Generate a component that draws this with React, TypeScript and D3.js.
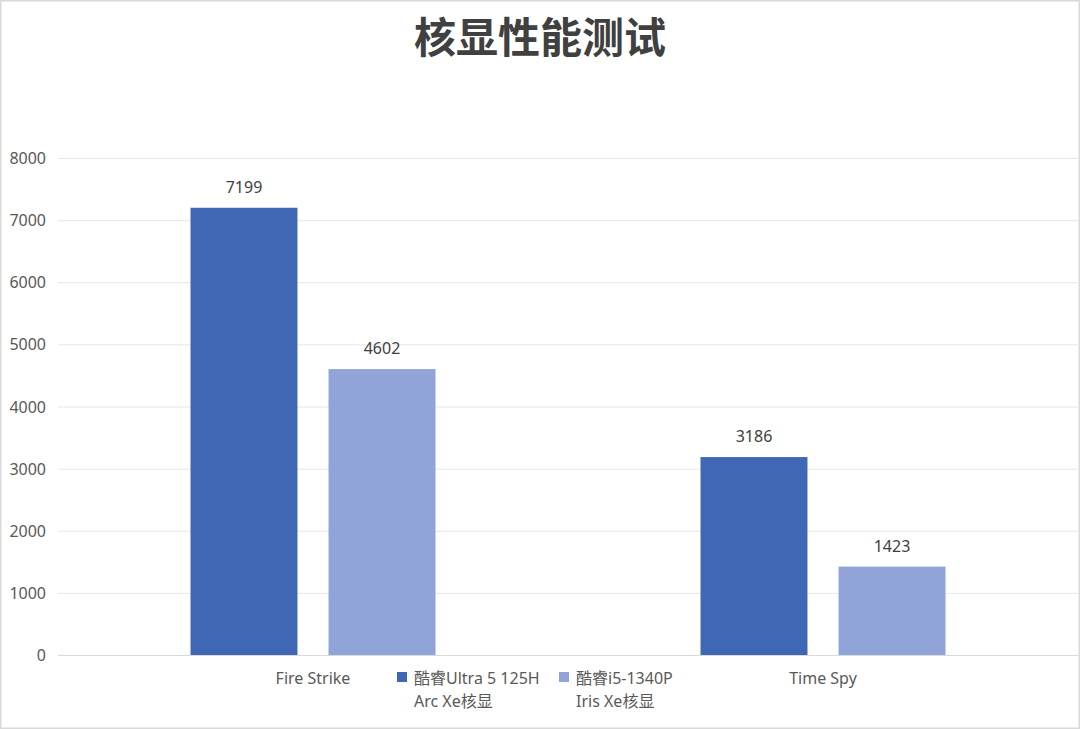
import React, { useEffect, useRef } from 'react';
import * as d3 from 'd3';

const categories = ['Fire Strike', 'Time Spy'];
const seriesNames = ['酷睿Ultra 5 125H\nArc Xe核显', '酷睿i5-1340P\nIris Xe核显'];
const ultraValues = [7199, 3186];
const irisValues = [4602, 1423];
const yTicks = [0, 1000, 2000, 3000, 4000, 5000, 6000, 7000, 8000];
const colors = ['#4067B5', '#91A4D9'];

const FONT = '"Noto Sans", "Noto Sans CJK SC", sans-serif';
const TITLE_FONT = '"Noto Sans CJK SC", sans-serif';

const App: React.FC = () => {
  const ref = useRef<SVGSVGElement | null>(null);

  useEffect(() => {
    const width = 1080;
    const height = 729;
    const left = 58;
    const right = 1078;
    const top = 158;
    const bottom = 655;

    const svg = d3.select(ref.current)
      .attr('width', width)
      .attr('height', height)
      .style('display', 'block')
      .style('position', 'absolute')
      .style('left', '0px')
      .style('top', '0px')
      .style('background', '#ffffff');

    svg.selectAll('*').remove();

    svg.append('rect')
      .attr('x', 0.75).attr('y', 0.75)
      .attr('width', width - 1.5).attr('height', height - 1.5)
      .attr('fill', 'none')
      .attr('stroke', '#d9d9d9')
      .attr('stroke-width', 1.5);

    svg.append('text')
      .attr('x', width / 2)
      .attr('y', 53)
      .attr('text-anchor', 'middle')
      .attr('fill', '#404040')
      .style('font-family', TITLE_FONT)
      .style('font-size', '42px')
      .style('font-weight', 'bold')
      .text('核显性能测试');

    const y = d3.scaleLinear().domain([0, 8000]).range([bottom, top]);
    const x0 = d3.scaleBand<string>().domain(categories).range([left, right]);
    const x1 = d3.scaleBand<number>().domain([0, 1]).range([0, 245]).paddingInner(0.225);

    svg.append('g')
      .selectAll('line')
      .data(yTicks)
      .join('line')
        .attr('x1', left).attr('x2', right)
        .attr('y1', d => y(d) + 0.5).attr('y2', d => y(d) + 0.5)
        .attr('stroke', d => d === 0 ? '#d9d9d9' : '#e6e6e6')
        .attr('stroke-width', 1);

    svg.append('g')
      .selectAll('text')
      .data(yTicks)
      .join('text')
        .attr('x', 46)
        .attr('y', d => y(d) + 6)
        .attr('text-anchor', 'end')
        .attr('fill', '#595959')
        .style('font-family', FONT)
        .style('font-size', '16px')
        .text(d => String(d));

    const series = [ultraValues, irisValues];
    const groups = svg.append('g')
      .selectAll('g')
      .data(categories)
      .join('g')
        .attr('transform', d => `translate(${x0(d)! + x0.bandwidth() / 2 - 122.5},0)`);

    groups.each(function (cat, ci) {
      const g = d3.select(this);
      series.forEach((vals, si) => {
        const v = vals[ci];
        g.append('rect')
          .attr('x', x1(si)!)
          .attr('y', y(v))
          .attr('width', x1.bandwidth())
          .attr('height', bottom - y(v))
          .attr('fill', colors[si]);
        g.append('text')
          .attr('x', x1(si)! + x1.bandwidth() / 2)
          .attr('y', y(v) - 15)
          .attr('text-anchor', 'middle')
          .attr('fill', '#404040')
          .style('font-family', FONT)
          .style('font-size', '16px')
          .text(String(v));
      });
    });

    svg.append('g')
      .selectAll('text')
      .data(categories)
      .join('text')
        .attr('x', d => x0(d)! + x0.bandwidth() / 2)
        .attr('y', 684)
        .attr('text-anchor', 'middle')
        .attr('fill', '#595959')
        .style('font-family', FONT)
        .style('font-size', '16px')
        .text(d => d);

    const legendX = [397, 559];
    seriesNames.forEach((name, i) => {
      const lg = svg.append('g').attr('transform', `translate(${legendX[i]},0)`);
      lg.append('rect')
        .attr('x', 0).attr('y', 672)
        .attr('width', 10).attr('height', 10)
        .attr('fill', colors[i]);
      const t = lg.append('text')
        .attr('fill', '#595959')
        .style('font-family', FONT)
        .style('font-size', '16px');
      name.split('\n').forEach((line, li) => {
        t.append('tspan')
          .attr('x', 17)
          .attr('y', 684 + li * 23)
          .text(line);
      });
    });
  }, []);

  return <svg ref={ref}></svg>;
};

export default App;
